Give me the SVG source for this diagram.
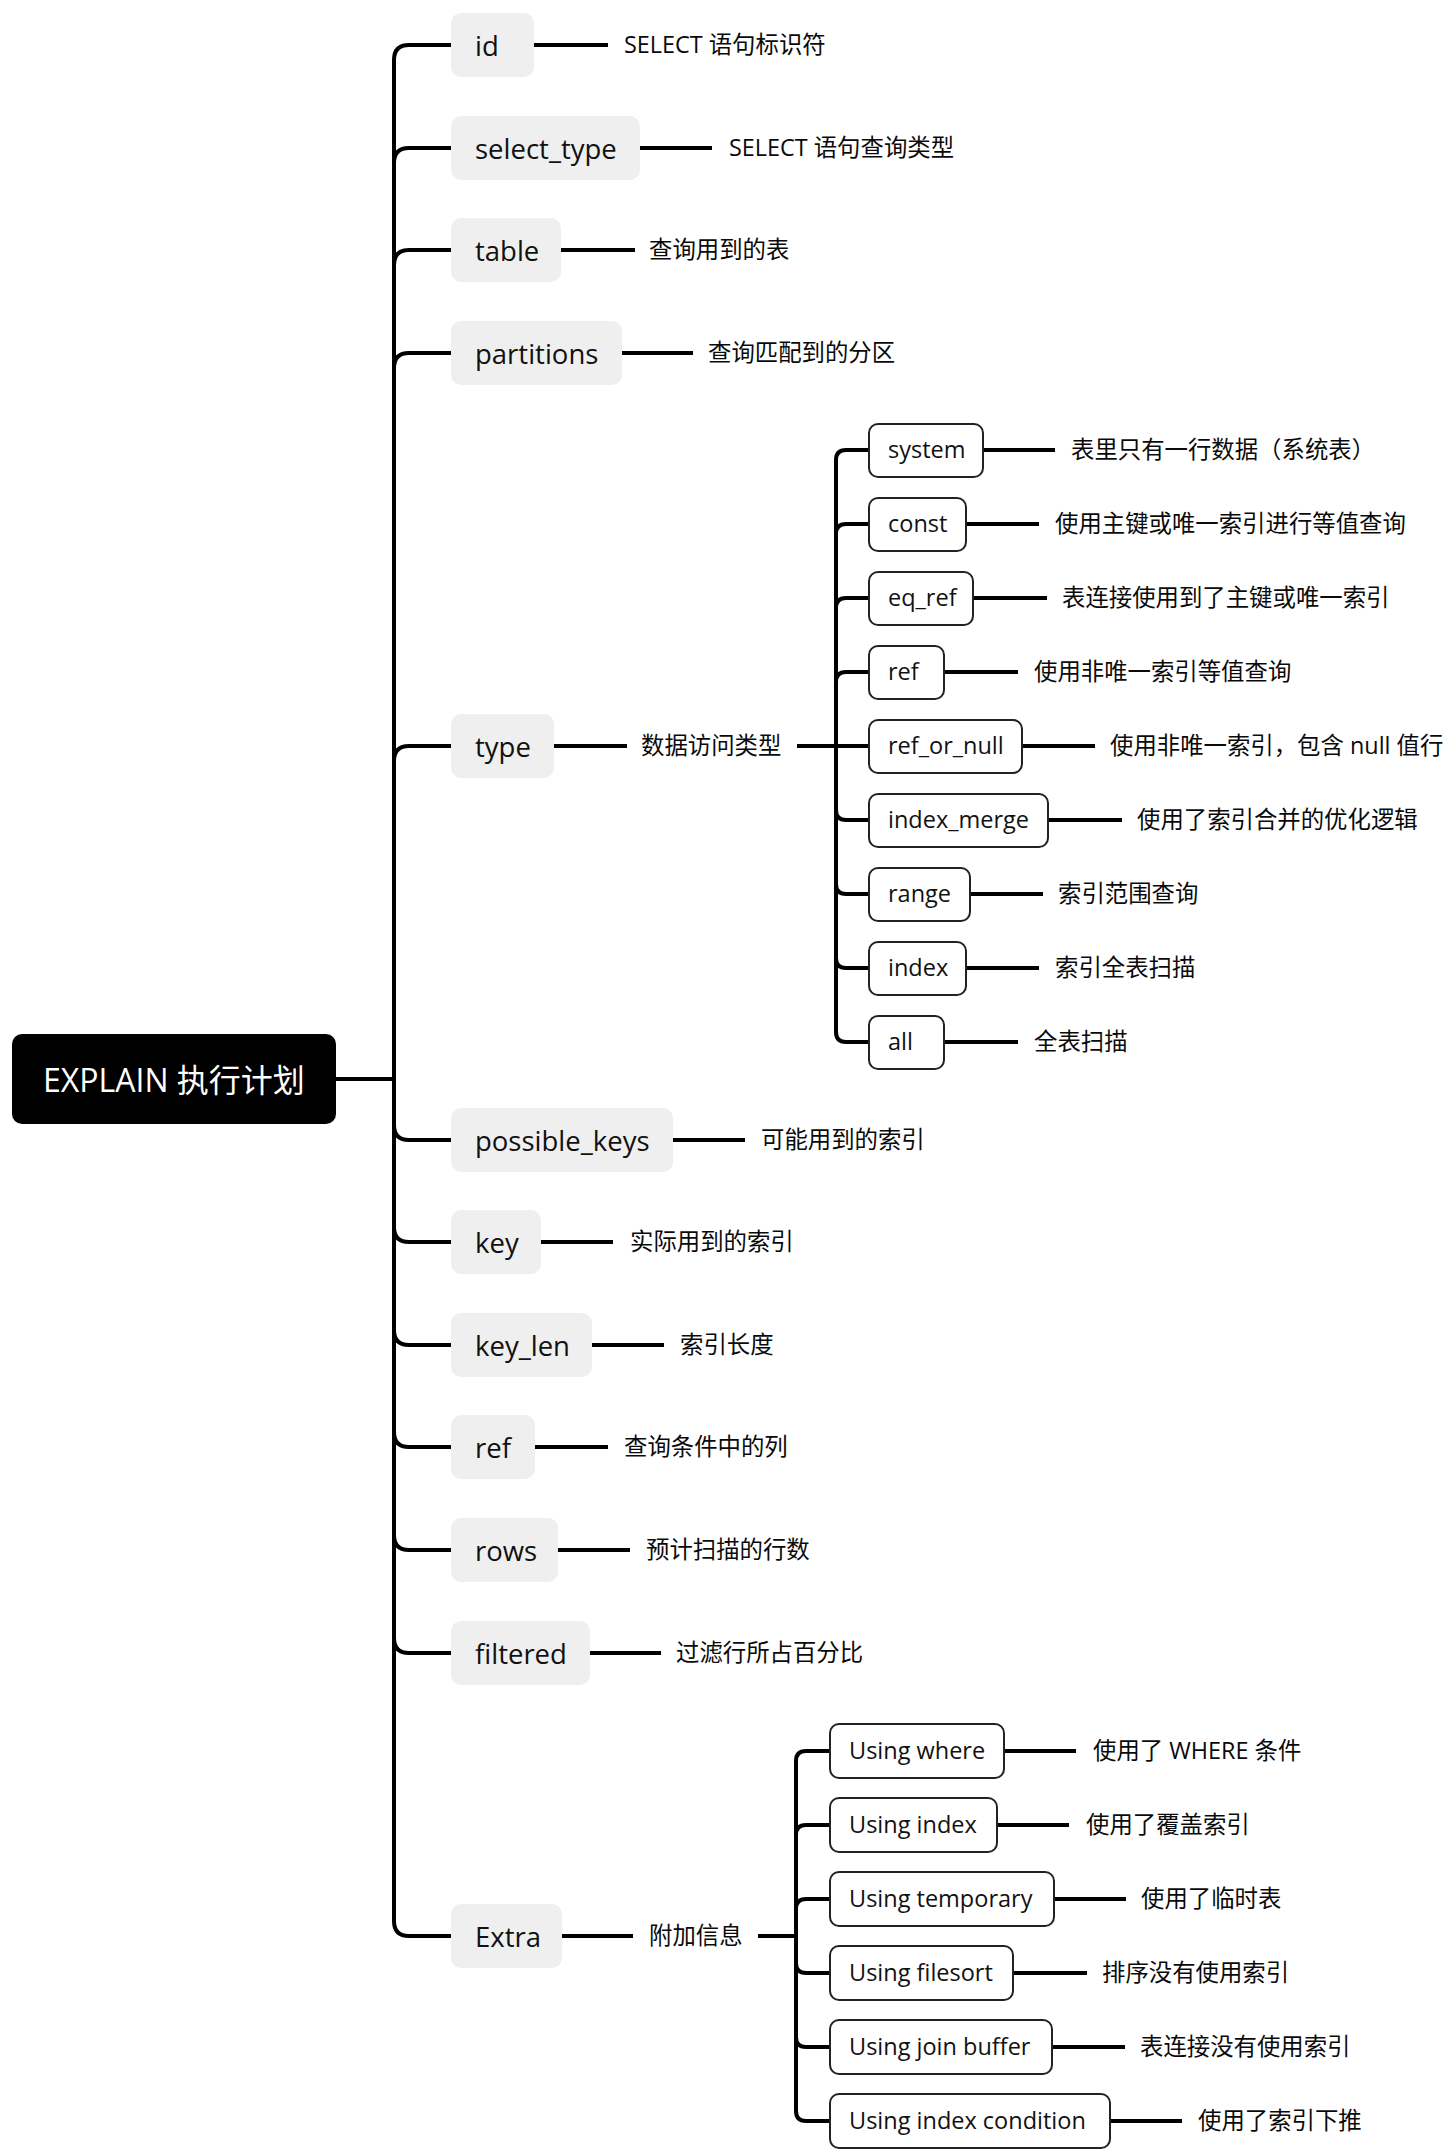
<svg xmlns="http://www.w3.org/2000/svg" width="1454" height="2155" viewBox="0 0 1454 2155">
<style>
.bg{fill:#ffffff}
.c{fill:none;stroke:#000;stroke-width:4;stroke-linecap:butt}
.root rect{fill:#000}
.root text{fill:#fff;font-family:"Open Sans","Noto Sans CJK SC",sans-serif;font-size:32px;dominant-baseline:central}
.m rect{fill:#efefef}
.m text{fill:#111;font-family:"Open Sans",sans-serif;font-size:27.5px;dominant-baseline:central}
.s rect{fill:#fff;stroke:#222;stroke-width:2}
.s text{fill:#111;font-family:"Open Sans",sans-serif;font-size:23.5px;dominant-baseline:central}
.l{fill:#0a0a0a;font-family:"Open Sans","Noto Sans CJK SC",sans-serif;font-size:23.4px;dominant-baseline:central}
</style>
<rect class="bg" x="0" y="0" width="1454" height="2155"/>
<g id="connectors">
<path class="c" d="M336 1079 H394"/>
<path class="c" d="M394 1079 V60 Q394 45 409 45 H451"/>
<path class="c" d="M394 1079 V163 Q394 148 409 148 H451"/>
<path class="c" d="M394 1079 V265 Q394 250 409 250 H451"/>
<path class="c" d="M394 1079 V368 Q394 353 409 353 H451"/>
<path class="c" d="M394 1079 V761 Q394 746 409 746 H451"/>
<path class="c" d="M394 1079 V1125 Q394 1140 409 1140 H451"/>
<path class="c" d="M394 1079 V1227 Q394 1242 409 1242 H451"/>
<path class="c" d="M394 1079 V1330 Q394 1345 409 1345 H451"/>
<path class="c" d="M394 1079 V1432 Q394 1447 409 1447 H451"/>
<path class="c" d="M394 1079 V1535 Q394 1550 409 1550 H451"/>
<path class="c" d="M394 1079 V1638 Q394 1653 409 1653 H451"/>
<path class="c" d="M394 1079 V1921 Q394 1936 409 1936 H451"/>
<path class="c" d="M534 45 H608"/>
<path class="c" d="M640 148 H712"/>
<path class="c" d="M561 250 H635"/>
<path class="c" d="M622 353 H693"/>
<path class="c" d="M554 746 H627"/>
<path class="c" d="M673 1140 H745"/>
<path class="c" d="M541 1242 H613"/>
<path class="c" d="M592 1345 H664"/>
<path class="c" d="M535 1447 H608"/>
<path class="c" d="M558 1550 H630"/>
<path class="c" d="M590 1653 H661"/>
<path class="c" d="M562 1936 H633"/>
<path class="c" d="M797 746 H869"/>
<path class="c" d="M836 746 V460 Q836 450 846 450 H869"/>
<path class="c" d="M836 746 V534 Q836 524 846 524 H869"/>
<path class="c" d="M836 746 V608 Q836 598 846 598 H869"/>
<path class="c" d="M836 746 V682 Q836 672 846 672 H869"/>
<path class="c" d="M836 746 V810 Q836 820 846 820 H869"/>
<path class="c" d="M836 746 V884 Q836 894 846 894 H869"/>
<path class="c" d="M836 746 V958 Q836 968 846 968 H869"/>
<path class="c" d="M836 746 V1032 Q836 1042 846 1042 H869"/>
<path class="c" d="M983 450 H1055"/>
<path class="c" d="M966 524 H1039"/>
<path class="c" d="M973 598 H1047"/>
<path class="c" d="M944 672 H1018"/>
<path class="c" d="M1022 746 H1095"/>
<path class="c" d="M1048 820 H1122"/>
<path class="c" d="M970 894 H1043"/>
<path class="c" d="M966 968 H1039"/>
<path class="c" d="M944 1042 H1018"/>
<path class="c" d="M758 1936 H796"/>
<path class="c" d="M796 1936 V1761 Q796 1751 806 1751 H830"/>
<path class="c" d="M796 1936 V1835 Q796 1825 806 1825 H830"/>
<path class="c" d="M796 1936 V1909 Q796 1899 806 1899 H830"/>
<path class="c" d="M796 1936 V1963 Q796 1973 806 1973 H830"/>
<path class="c" d="M796 1936 V2037 Q796 2047 806 2047 H830"/>
<path class="c" d="M796 1936 V2111 Q796 2121 806 2121 H830"/>
<path class="c" d="M1004 1751 H1076"/>
<path class="c" d="M997 1825 H1069"/>
<path class="c" d="M1054 1899 H1126"/>
<path class="c" d="M1013 1973 H1087"/>
<path class="c" d="M1052 2047 H1125"/>
<path class="c" d="M1110 2121 H1182"/>
</g>
<g id="root" class="root"><rect x="12" y="1034" width="324" height="90" rx="10"/><text x="43" y="1079">EXPLAIN 执行计划</text></g>
<g id="n-id" class="m"><rect x="451" y="13" width="83" height="64" rx="10"/><text x="475" y="45">id</text></g>
<g id="n-select_type" class="m"><rect x="451" y="116" width="189" height="64" rx="10"/><text x="475" y="148">select_type</text></g>
<g id="n-table" class="m"><rect x="451" y="218" width="110" height="64" rx="10"/><text x="475" y="250">table</text></g>
<g id="n-partitions" class="m"><rect x="451" y="321" width="171" height="64" rx="10"/><text x="475" y="353">partitions</text></g>
<g id="n-type" class="m"><rect x="451" y="714" width="103" height="64" rx="10"/><text x="475" y="746">type</text></g>
<g id="n-possible_keys" class="m"><rect x="451" y="1108" width="222" height="64" rx="10"/><text x="475" y="1140">possible_keys</text></g>
<g id="n-key" class="m"><rect x="451" y="1210" width="90" height="64" rx="10"/><text x="475" y="1242">key</text></g>
<g id="n-key_len" class="m"><rect x="451" y="1313" width="141" height="64" rx="10"/><text x="475" y="1345">key_len</text></g>
<g id="n-ref" class="m"><rect x="451" y="1415" width="84" height="64" rx="10"/><text x="475" y="1447">ref</text></g>
<g id="n-rows" class="m"><rect x="451" y="1518" width="107" height="64" rx="10"/><text x="475" y="1550">rows</text></g>
<g id="n-filtered" class="m"><rect x="451" y="1621" width="139" height="64" rx="10"/><text x="475" y="1653">filtered</text></g>
<g id="n-extra" class="m"><rect x="451" y="1904" width="111" height="64" rx="10"/><text x="475" y="1936">Extra</text></g>
<g id="labels-main">
<text class="l" x="624" y="44">SELECT 语句标识符</text>
<text class="l" x="729" y="147">SELECT 语句查询类型</text>
<text class="l" x="649" y="249">查询用到的表</text>
<text class="l" x="708" y="352">查询匹配到的分区</text>
<text class="l" x="641" y="745">数据访问类型</text>
<text class="l" x="761" y="1139">可能用到的索引</text>
<text class="l" x="630" y="1241">实际用到的索引</text>
<text class="l" x="680" y="1344">索引长度</text>
<text class="l" x="624" y="1446">查询条件中的列</text>
<text class="l" x="646" y="1549">预计扫描的行数</text>
<text class="l" x="676" y="1652">过滤行所占百分比</text>
<text class="l" x="649" y="1935">附加信息</text>
</g>
<g id="t-system" class="s"><rect x="869" y="424" width="114" height="53" rx="9"/><text x="888" y="449">system</text></g>
<g id="t-const" class="s"><rect x="869" y="498" width="97" height="53" rx="9"/><text x="888" y="523">const</text></g>
<g id="t-eq_ref" class="s"><rect x="869" y="572" width="104" height="53" rx="9"/><text x="888" y="597">eq_ref</text></g>
<g id="t-ref" class="s"><rect x="869" y="646" width="75" height="53" rx="9"/><text x="888" y="671">ref</text></g>
<g id="t-ref_or_null" class="s"><rect x="869" y="720" width="153" height="53" rx="9"/><text x="888" y="745">ref_or_null</text></g>
<g id="t-index_merge" class="s"><rect x="869" y="794" width="179" height="53" rx="9"/><text x="888" y="819">index_merge</text></g>
<g id="t-range" class="s"><rect x="869" y="868" width="101" height="53" rx="9"/><text x="888" y="893">range</text></g>
<g id="t-index" class="s"><rect x="869" y="942" width="97" height="53" rx="9"/><text x="888" y="967">index</text></g>
<g id="t-all" class="s"><rect x="869" y="1016" width="75" height="53" rx="9"/><text x="888" y="1041">all</text></g>
<g id="labels-type">
<text class="l" x="1071" y="449">表里只有一行数据（系统表）</text>
<text class="l" x="1055" y="523">使用主键或唯一索引进行等值查询</text>
<text class="l" x="1062" y="597">表连接使用到了主键或唯一索引</text>
<text class="l" x="1034" y="671">使用非唯一索引等值查询</text>
<text class="l" x="1110" y="745">使用非唯一索引，包含 null 值行</text>
<text class="l" x="1137" y="819">使用了索引合并的优化逻辑</text>
<text class="l" x="1058" y="893">索引范围查询</text>
<text class="l" x="1055" y="967">索引全表扫描</text>
<text class="l" x="1034" y="1041">全表扫描</text>
</g>
<g id="e-using_where" class="s"><rect x="830" y="1724" width="174" height="54" rx="9"/><text x="849" y="1750">Using where</text></g>
<g id="e-using_index" class="s"><rect x="830" y="1798" width="167" height="54" rx="9"/><text x="849" y="1824">Using index</text></g>
<g id="e-using_temporary" class="s"><rect x="830" y="1872" width="224" height="54" rx="9"/><text x="849" y="1898">Using temporary</text></g>
<g id="e-using_filesort" class="s"><rect x="830" y="1946" width="183" height="54" rx="9"/><text x="849" y="1972">Using filesort</text></g>
<g id="e-using_join_buffer" class="s"><rect x="830" y="2020" width="222" height="54" rx="9"/><text x="849" y="2046">Using join buffer</text></g>
<g id="e-using_index_condition" class="s"><rect x="830" y="2094" width="280" height="54" rx="9"/><text x="849" y="2120">Using index condition</text></g>
<g id="labels-extra">
<text class="l" x="1093" y="1750">使用了 WHERE 条件</text>
<text class="l" x="1086" y="1824">使用了覆盖索引</text>
<text class="l" x="1141" y="1898">使用了临时表</text>
<text class="l" x="1102" y="1972">排序没有使用索引</text>
<text class="l" x="1140" y="2046">表连接没有使用索引</text>
<text class="l" x="1198" y="2120">使用了索引下推</text>
</g>
</svg>
